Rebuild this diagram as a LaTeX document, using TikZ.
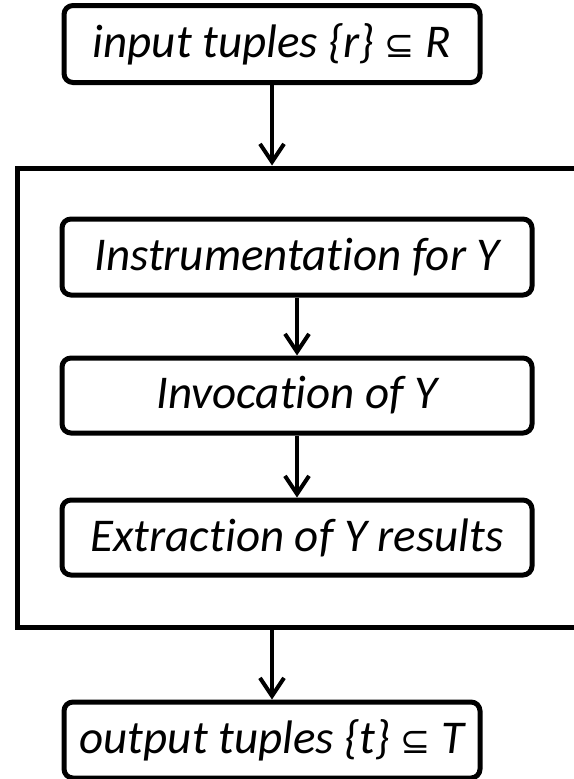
\documentclass[tikz,border=0pt]{standalone}
\usepackage{fontspec}
\setmainfont{Carlito}[Ligatures={NoCommon,NoContextual}]
\newfontfamily\relsym{DejaVu Sans}
\newcommand{\subsetsym}{{\relsym\upshape\fontsize{36}{40}\selectfont ⊆}}
\usetikzlibrary{arrows.meta}
\tikzset{
  stage/.style={draw, line width=5pt, rounded corners=9pt, inner sep=0pt,
    font=\fontsize{47}{56}\selectfont\itshape, text=black},
  flow/.style={line width=4pt, -{Straight Barb[length=18pt,width=24pt,line width=4pt]}}
}
\begin{document}
\begin{tikzpicture}[x=1pt,y=-1pt]
  \useasboundingbox (0,0) rectangle (573,779);
  % outer stage frame, open on the right
  \draw[line width=5pt] (580,168) -- (17,168) -- (17,627) -- (580,627);
  \coordinate (frametop) at (272,165.5);
  \coordinate (framebot) at (272,629.5);

  \node[stage, minimum width=416pt, minimum height=77pt] (in) at (272,44) {input tuples \{r\} \subsetsym{} R};
  \node[stage, minimum width=470pt, minimum height=76pt] (instr) at (297,257) {Instrumentation for Y};
  \node[stage, minimum width=470pt, minimum height=75pt] (invoc) at (297,395.5) {Invocation of Y};
  \node[stage, minimum width=470pt, minimum height=75pt] (extr) at (297,537.5) {Extraction of Y results};
  \node[stage, minimum width=416pt, minimum height=76pt] (out) at (272,740) {output tuples \{t\} \subsetsym{} T};

  \draw[flow] (in) -- (frametop);
  \draw[flow] (instr) -- (invoc);
  \draw[flow] (invoc) -- (extr);
  \draw[flow] (framebot) -- (out);
\end{tikzpicture}
\end{document}
